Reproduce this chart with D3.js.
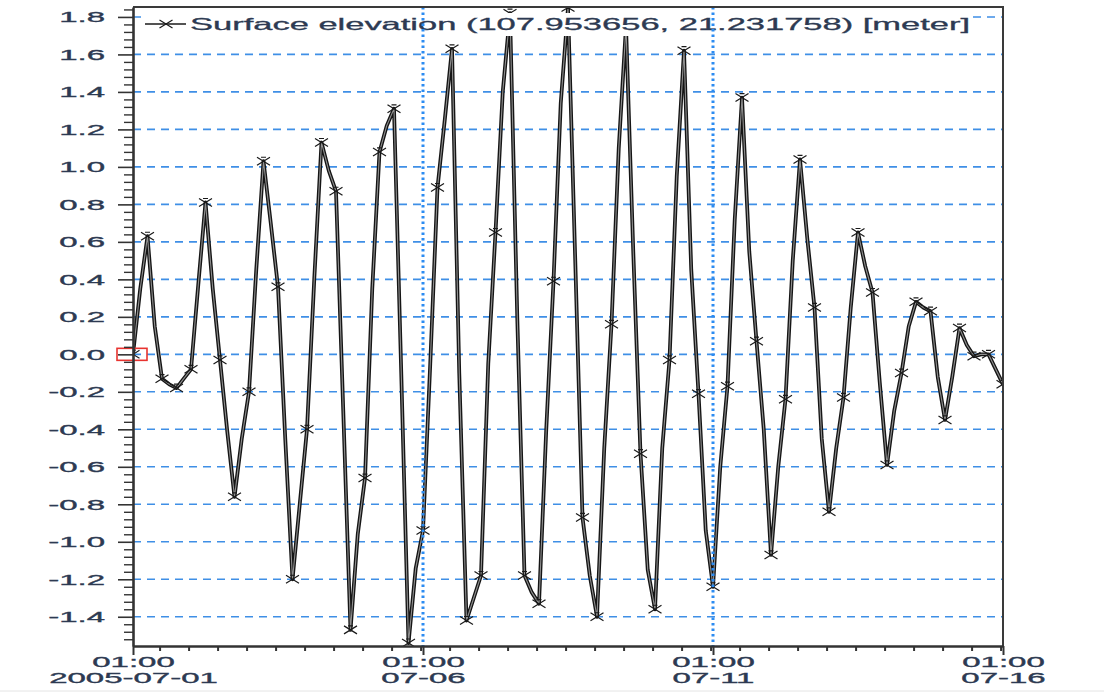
<!DOCTYPE html>
<html>
<head>
<meta charset="utf-8">
<script src="https://cdn.jsdelivr.net/npm/d3@7"></script>
<style>
  body { margin: 0; background: #fff; }
  svg { display: block; }
  text { font-family: "Liberation Sans", Arial, sans-serif; }
</style>
</head>
<body>
<svg id="chart" width="1104" height="693"></svg>
<script>
let width = 1104, height = 693;

// series: surface elevation every 3 hours from 2005-07-01 01:00 (meter)
const startTime = Date.UTC(2005, 6, 1, 1);
const stepHours = 3;
const elevation = [
     0.00,  0.35,  0.63,  0.15, -0.13, -0.16, -0.18, -0.13,
    -0.08,  0.37,  0.81,  0.35, -0.03, -0.41, -0.76, -0.45,
    -0.20,  0.45,  1.03,  0.70,  0.36, -0.45, -1.20, -0.80,
    -0.40,  0.40,  1.13,  0.98,  0.87, -0.30, -1.47, -0.96,
    -0.66,  0.35,  1.08,  1.22,  1.31, -0.10, -1.54, -1.14,
    -0.94, -0.05,  0.89,  1.25,  1.63, -0.10, -1.42, -1.30,
    -1.18, -0.05,  0.65,  1.40,  1.82,  0.20, -1.18, -1.27,
    -1.33, -0.40,  0.39,  1.34,  1.85,  0.50, -0.87, -1.18,
    -1.40, -0.50,  0.16,  1.10,  1.75,  0.55, -0.53, -1.15,
    -1.36, -0.50, -0.03,  0.95,  1.62,  0.45, -0.21, -0.94,
    -1.24, -0.60, -0.17,  0.72,  1.37,  0.55,  0.07, -0.40,
    -1.07, -0.60, -0.24,  0.50,  1.04,  0.62,  0.25, -0.45,
    -0.84, -0.50, -0.23,  0.25,  0.65,  0.47,  0.33, -0.15,
    -0.59, -0.30, -0.10,  0.15,  0.28,  0.25,  0.23, -0.12,
    -0.35, -0.12,  0.14,  0.05, -0.01,  0.00,  0.00, -0.08,
    -0.16
];
const markerEvery = 2;          // one marker every 6 hours
const highlightIndex = 0;       // point boxed in red

const majorDays = [0, 5, 10, 15];
const highlightDays = [5, 10];  // dotted vertical lines
const yTickValues = [-1.4, -1.2, -1.0, -0.8, -0.6, -0.4, -0.2, 0.0, 0.2, 0.4, 0.6, 0.8, 1.0, 1.2, 1.4, 1.6, 1.8];
const legendLabel = "Surface elevation (107.953656, 21.231758) [meter]";

const textColor = "#2d3a52";
const stretch = 2.2;            // text in the picture is drawn wide

const svg = d3.select("#chart");
const dayMs = 864e5;

const x = d3.scaleUtc()
    .domain([new Date(startTime), new Date(startTime + 15 * dayMs)])
    .range([133, 1003]);
const y = d3.scaleLinear()
    .domain([-1.556, 1.853])
    .range([646, 7]);

const points = elevation.map((v, i) => ({ t: new Date(startTime + i * stepHours * 36e5), v: v }));

svg.append("defs").append("clipPath").attr("id", "plot-clip")
    .append("rect")
    .attr("x", x.range()[0]).attr("y", y.range()[1])
    .attr("width", x.range()[1] - x.range()[0])
    .attr("height", y.range()[0] - y.range()[1]);

// horizontal dashed grid
svg.append("g").attr("class", "grid")
    .selectAll("line")
    .data(yTickValues)
    .join("line")
    .attr("x1", x.range()[0]).attr("x2", x.range()[1])
    .attr("y1", d => y(d)).attr("y2", d => y(d))
    .attr("stroke", "#3f8fe6")
    .attr("stroke-width", 1.6)
    .attr("stroke-dasharray", "8,6");

const plot = svg.append("g").attr("clip-path", "url(#plot-clip)");

const line = d3.line().x(d => x(d.t)).y(d => y(d.v));

plot.append("path")
    .datum(points)
    .attr("d", line)
    .attr("fill", "none")
    .attr("stroke", "#151515")
    .attr("stroke-width", 3.8)
    .attr("stroke-linejoin", "round");
plot.append("path")
    .datum(points)
    .attr("d", line)
    .attr("fill", "none")
    .attr("stroke", "#8f8f8f")
    .attr("stroke-width", 1.1)
    .attr("stroke-linejoin", "round");

const markerShape = "M-6.5,-4L6.5,4M-6.5,4L6.5,-4M-2.5,-4H2.5";

plot.append("g").attr("class", "markers")
    .selectAll("path")
    .data(points.filter((d, i) => i % markerEvery === 0))
    .join("path")
    .attr("transform", d => `translate(${x(d.t)},${y(d.v)})`)
    .attr("d", markerShape)
    .attr("fill", "none")
    .attr("stroke", "#1a1a1a")
    .attr("stroke-width", 1.2);

// red box round the selected point
const hp = points[highlightIndex];
svg.append("rect")
    .attr("x", x(hp.t) - 16).attr("y", y(hp.v) - 6)
    .attr("width", 30).attr("height", 12)
    .attr("fill", "none")
    .attr("stroke", "#e8332f")
    .attr("stroke-width", 1.6);

// legend (opaque, hides the top of the curve)
const legend = svg.append("g").attr("class", "legend");
legend.append("rect")
    .attr("x", 143).attr("y", 13)
    .attr("width", 830).attr("height", 23)
    .attr("fill", "#fff");
legend.append("line")
    .attr("x1", 145).attr("x2", 186)
    .attr("y1", 24).attr("y2", 24)
    .attr("stroke", "#1a1a1a").attr("stroke-width", 1.4);
legend.append("path")
    .attr("transform", "translate(166,24)")
    .attr("d", "M-6.5,-4L6.5,4M-6.5,4L6.5,-4")
    .attr("fill", "none")
    .attr("stroke", "#1a1a1a")
    .attr("stroke-width", 1.2);
legend.append("text")
    .attr("x", 190).attr("y", 30)
    .attr("font-size", 16.5)
    .attr("fill", textColor)
    .attr("stroke", textColor)
    .attr("stroke-width", 0.3)
    .attr("textLength", 780)
    .attr("lengthAdjust", "spacingAndGlyphs")
    .text(legendLabel);

// dotted day lines
svg.append("g").attr("class", "daylines")
    .selectAll("line")
    .data(highlightDays)
    .join("line")
    .attr("x1", d => x(new Date(startTime + d * dayMs)))
    .attr("x2", d => x(new Date(startTime + d * dayMs)))
    .attr("y1", y.range()[1]).attr("y2", y.range()[0])
    .attr("stroke", "#2c8cf2")
    .attr("stroke-width", 3)
    .attr("stroke-dasharray", "2.5,3");

// frame top / right
svg.append("path")
    .attr("d", `M${x.range()[0]},${y.range()[1]}H${x.range()[1]}V${y.range()[0]}`)
    .attr("fill", "none")
    .attr("stroke", "#3a3a3a")
    .attr("stroke-width", 2);

// y axis
const minorY = d3.range(-38, 47).map(i => +(i * 0.04).toFixed(2))
    .filter(d => d >= y.domain()[0] && d <= y.domain()[1] && Math.abs(d * 5 - Math.round(d * 5)) > 1e-6);

svg.append("g")
    .attr("transform", `translate(${x.range()[0]},0)`)
    .call(d3.axisLeft(y).tickValues(minorY).tickSize(9).tickSizeOuter(0).tickFormat(""))
    .call(g => g.select(".domain").remove())
    .call(g => g.selectAll(".tick line").attr("stroke", "#333").attr("stroke-width", 1.4));

const yAxis = svg.append("g")
    .attr("transform", `translate(${x.range()[0]},0)`)
    .call(d3.axisLeft(y).tickValues(yTickValues).tickSize(15).tickSizeOuter(0).tickFormat(d => d.toFixed(1)));
yAxis.select(".domain").attr("stroke", "#333").attr("stroke-width", 2.6);
yAxis.selectAll(".tick line").attr("stroke", "#333").attr("stroke-width", 1.6);
yAxis.selectAll(".tick text")
    .attr("x", null).attr("dy", null)
    .attr("transform", `translate(-28,5) scale(${stretch},1)`)
    .attr("text-anchor", "end")
    .attr("font-size", 15)
    .attr("font-family", null)
    .attr("fill", textColor)
    .attr("stroke", textColor)
    .attr("stroke-width", 0.35);

// x axis
svg.append("g")
    .attr("transform", `translate(0,${y.range()[0]})`)
    .call(d3.axisBottom(x).ticks(d3.utcHour.every(12)).tickSize(5).tickSizeOuter(0).tickFormat(""))
    .call(g => g.select(".domain").attr("stroke", "#333").attr("stroke-width", 2.4))
    .call(g => g.selectAll(".tick line").attr("stroke", "#333").attr("stroke-width", 2));

const fmtTime = d3.utcFormat("%H:%M");
const fmtFirst = d3.utcFormat("%Y-%m-%d");
const fmtDay = d3.utcFormat("%m-%d");
const majorDates = majorDays.map(d => new Date(startTime + d * dayMs));

const xAxis = svg.append("g")
    .attr("transform", `translate(0,${y.range()[0]})`)
    .call(d3.axisBottom(x).tickValues(majorDates).tickSize(9).tickSizeOuter(0).tickFormat(""));
xAxis.select(".domain").remove();
xAxis.selectAll(".tick line").attr("stroke", "#333").attr("stroke-width", 2);
xAxis.selectAll(".tick text").remove();
xAxis.selectAll(".tick").each(function(d, i) {
    const g = d3.select(this);
    g.append("text")
        .attr("transform", `translate(0,21) scale(${stretch},1)`)
        .attr("text-anchor", "middle")
        .attr("font-size", 15)
        .attr("fill", textColor)
        .attr("stroke", textColor)
        .attr("stroke-width", 0.35)
        .text(fmtTime(d));
    g.append("text")
        .attr("transform", `translate(0,37) scale(${stretch},1)`)
        .attr("text-anchor", "middle")
        .attr("font-size", 15)
        .attr("fill", textColor)
        .attr("stroke", textColor)
        .attr("stroke-width", 0.35)
        .text(i === 0 ? fmtFirst(d) : fmtDay(d));
});

// faint bottom edge of the picture
svg.append("line")
    .attr("x1", 0).attr("x2", width)
    .attr("y1", height - 2).attr("y2", height - 2)
    .attr("stroke", "#e4e4e4");
</script>
</body>
</html>
